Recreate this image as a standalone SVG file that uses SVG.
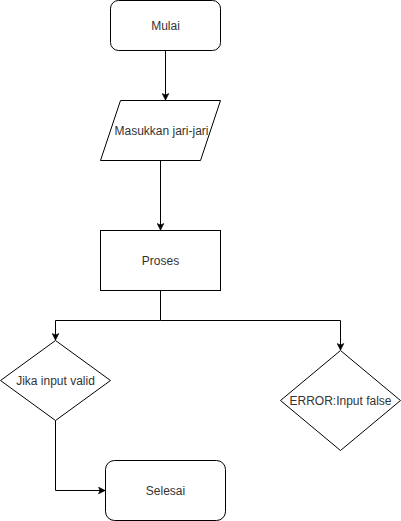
<svg xmlns="http://www.w3.org/2000/svg" width="401" height="521" viewBox="0 0 401 521">
<style>
.s{fill:#fff;stroke:#000;stroke-width:1}
.t{font-family:"Liberation Sans",Arial,sans-serif;font-size:12px;fill:#333;text-anchor:middle;dominant-baseline:central}
.c{fill:none;stroke:#000;stroke-width:1}
</style>
<defs>
<marker id="a" viewBox="0 0 10 10" refX="9" refY="5" markerWidth="8" markerHeight="8" markerUnits="userSpaceOnUse" orient="auto">
<path d="M1,1 L9,5 L1,9 L3,5 z" fill="#000" stroke="#000" stroke-width="1"/>
</marker>
</defs>
<rect width="401" height="521" fill="#fff"/>
<g id="connectors">
<path class="c" d="M165.5,50.5 V100" marker-end="url(#a)"/>
<path class="c" d="M160.5,160.5 V230" marker-end="url(#a)"/>
<path class="c" d="M160.5,290.5 V320.5 H55.5 V340" marker-end="url(#a)"/>
<path class="c" d="M160.5,320.5 H340.5 V350" marker-end="url(#a)"/>
<path class="c" d="M55.5,420.5 V490.5 H105" marker-end="url(#a)"/>
</g>
<g id="mulai">
<rect class="s" x="110.5" y="0.5" width="110" height="50" rx="8"/>
<text class="t" x="165.5" y="25.5">Mulai</text>
</g>
<g id="input">
<polygon class="s" points="120.5,100.5 220.5,100.5 200.5,160.5 100.5,160.5"/>
<text class="t" x="161.5" y="130.5">Masukkan jari-jari</text>
</g>
<g id="proses">
<rect class="s" x="100.5" y="230.5" width="120" height="60"/>
<text class="t" x="160.5" y="260.5">Proses</text>
</g>
<g id="valid">
<polygon class="s" points="55.5,340.5 110.5,380.5 55.5,420.5 0.5,380.5"/>
<text class="t" x="55.5" y="380.5">Jika input valid</text>
</g>
<g id="error">
<polygon class="s" points="340.5,350.5 400.5,400.5 340.5,450.5 280.5,400.5"/>
<text class="t" x="340.5" y="400.5">ERROR:Input false</text>
</g>
<g id="selesai">
<rect class="s" x="105.5" y="460.5" width="120" height="60" rx="9"/>
<text class="t" x="165.5" y="490.5">Selesai</text>
</g>
</svg>
